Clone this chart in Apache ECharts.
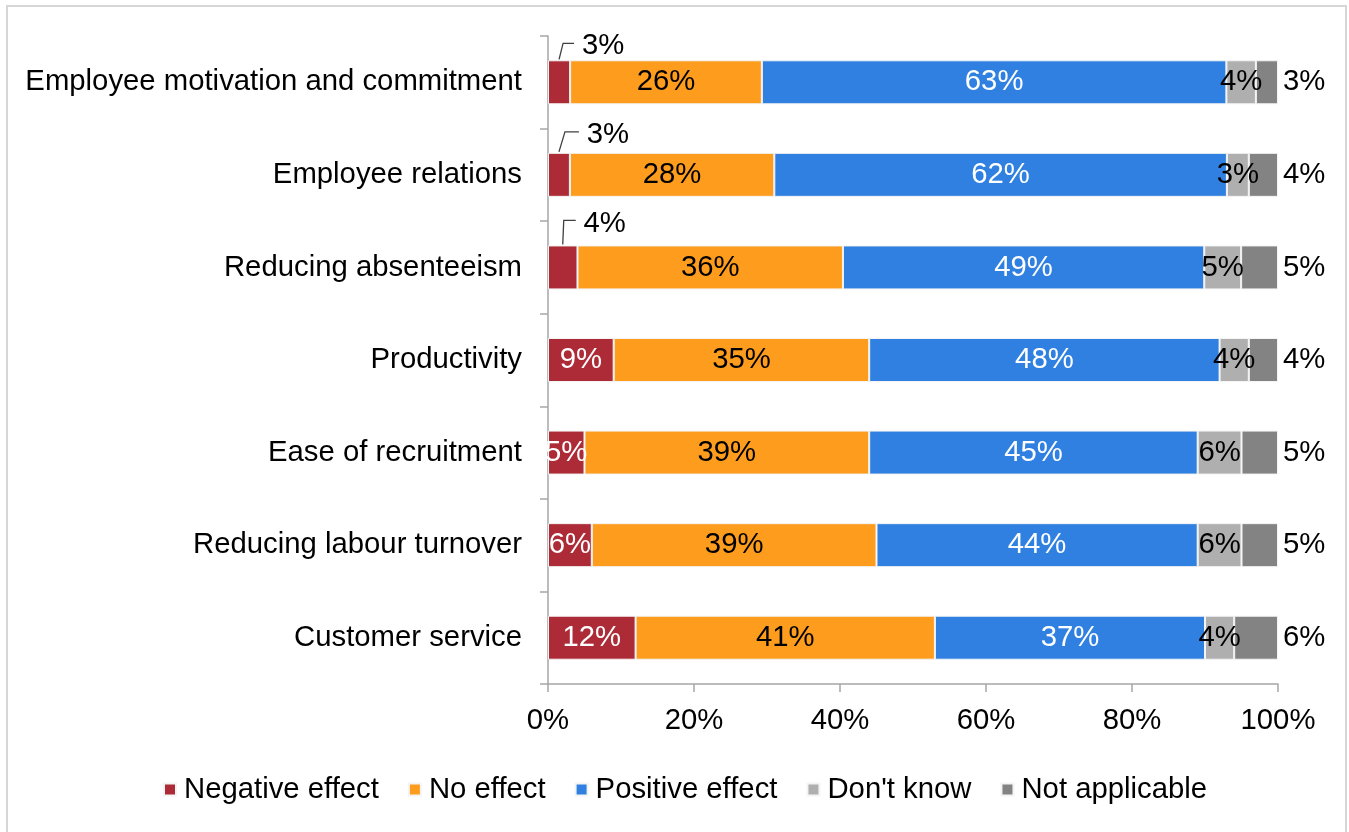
<!DOCTYPE html>
<html>
<head>
<meta charset="utf-8">
<script src="https://cdn.jsdelivr.net/npm/echarts@6/dist/echarts.min.js"></script>
<style>
  html, body { margin: 0; padding: 0; background: #ffffff; }
  #chart { width: 1349px; height: 832px; }
</style>
</head>
<body>
<div id="chart"></div>
<script>
// Survey answers per area, in percent of respondents
const categories = [
  'Employee motivation and commitment',
  'Employee relations',
  'Reducing absenteeism',
  'Productivity',
  'Ease of recruitment',
  'Reducing labour turnover',
  'Customer service'
];
const seriesNames = ['Negative effect', 'No effect', 'Positive effect', "Don't know", 'Not applicable'];
const negativeEffect = [3, 3, 4, 9, 5, 6, 12];
const noEffect       = [26, 28, 36, 35, 39, 39, 41];
const positiveEffect = [63, 62, 49, 48, 45, 44, 37];
const dontKnow       = [4, 3, 5, 4, 6, 6, 4];
const notApplicable  = [3, 4, 5, 4, 5, 5, 6];
const xTickStep = 20;

const rawSeries = [negativeEffect, noEffect, positiveEffect, dontKnow, notApplicable];
const colors = ['#AC2B37', '#FE9D1D', '#2F80E0', '#AFAFAF', '#838383'];
const labelColors = ['#ffffff', '#000000', '#ffffff', '#000000', '#000000'];
const FONT = "'Liberation Sans', Arial, sans-serif";
const FS = 29.3;
const BAR_W = 44;

// 100% stacked: each segment is its share of the row total
const rowTotals = categories.map((_, i) => rawSeries.reduce((s, arr) => s + arr[i], 0));
const toShare = arr => arr.map((v, i) => v / rowTotals[i] * 100);
const negShares = toShare(negativeEffect);

// Small negative segments get their label lifted above the bar with a leader line.
// Offsets of the lifted label (from the segment's top centre) and of the leader's knee.
const liftPlacement = {
  0: { dx: 44, dy: -14, knee: 4 },
  1: { dx: 49, dy: -18, knee: 6 },
  2: { dx: 42, dy: -22, knee: 1 }
};
const isLifted = i => negativeEffect[i] <= 4 && liftPlacement[i] != null;

const series = rawSeries.map((raw, k) => {
  const shares = toShare(raw);
  const s = {
    name: seriesNames[k],
    type: 'bar',
    stack: 'total',
    barWidth: BAR_W,
    itemStyle: { color: colors[k], borderColor: '#f4f4f4', borderWidth: 1 },
    label: {
      show: true,
      position: k === 4 ? 'right' : 'inside',
      distance: 5,
      color: labelColors[k],
      fontSize: FS,
      fontFamily: FONT,
      formatter: p => raw[p.dataIndex] + '%'
    },
    emphasis: { disabled: true },
    data: shares
  };
  if (k === 0) {
    s.data = shares.map((v, i) => isLifted(i) ? { value: v, label: { color: '#000000' } } : v);
    s.labelLayout = function (params) {
      const i = params.dataIndex;
      if (!isLifted(i)) return {};
      const r = params.rect;
      const cx = r.x + r.width / 2;
      const p = liftPlacement[i];
      return { x: cx + p.dx, y: r.y + p.dy, align: 'center', verticalAlign: 'middle' };
    };
  }
  return s;
});

const frame = {
  type: 'rect',
  shape: { x: 7, y: 6, width: 1339, height: 840 },
  style: { fill: 'none', stroke: '#d6d6d6', lineWidth: 2 },
  silent: true
};

const chart = echarts.init(document.getElementById('chart'), null, { renderer: 'canvas' });
chart.setOption({
  backgroundColor: '#ffffff',
  animation: false,
  textStyle: { fontFamily: FONT },
  graphic: [frame],
  grid: { left: 548, right: 71, top: 36, bottom: 148, containLabel: false },
  legend: {
    data: seriesNames,
    left: 158,
    top: 770,
    icon: 'rect',
    itemWidth: 12,
    itemHeight: 12,
    itemGap: 29,
    textStyle: { fontSize: FS, color: '#000000', fontFamily: FONT, padding: [0, 0, 0, 3] },
    selectedMode: false
  },
  xAxis: {
    type: 'value',
    min: 0,
    max: 100,
    interval: xTickStep,
    splitLine: { show: false },
    axisLine: { show: true, lineStyle: { color: '#a6a6a6', width: 1.5 } },
    axisTick: { show: true, length: 8, lineStyle: { color: '#a6a6a6', width: 1.5 } },
    axisLabel: { fontSize: FS, color: '#000000', margin: 22, fontFamily: FONT, formatter: '{value}%' }
  },
  yAxis: {
    type: 'category',
    data: categories,
    inverse: true,
    axisLine: { show: true, lineStyle: { color: '#a6a6a6', width: 1.5 } },
    axisTick: { show: true, length: 8, lineStyle: { color: '#a6a6a6', width: 1.5 } },
    axisLabel: { fontSize: FS, color: '#000000', margin: 26, fontFamily: FONT }
  },
  series: series
});

// Leader lines for the lifted labels, placed through the axis scales
const leaders = [];
categories.forEach((c, i) => {
  if (!isLifted(i)) return;
  const p = liftPlacement[i];
  const x0 = chart.convertToPixel({ xAxisIndex: 0 }, 0);
  const x1 = chart.convertToPixel({ xAxisIndex: 0 }, negShares[i]);
  const yc = chart.convertToPixel({ yAxisIndex: 0 }, i);
  const cx = (x0 + x1) / 2;
  const top = yc - BAR_W / 2;
  const elbowY = top + p.dy - 3;
  const endX = cx + p.dx - 29;
  leaders.push({
    type: 'polyline',
    shape: { points: [[cx, top - 1], [cx + p.knee, elbowY], [endX, elbowY]] },
    style: { stroke: '#404040', lineWidth: 1.3, fill: null },
    silent: true,
    z: 10
  });
});
chart.setOption({ graphic: [frame].concat(leaders) });
</script>
</body>
</html>
